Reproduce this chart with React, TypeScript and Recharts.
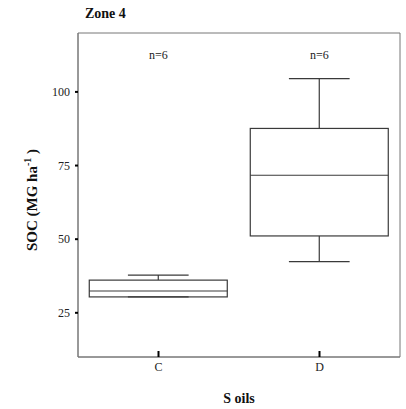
import { Bar, ComposedChart, ReferenceArea, XAxis, YAxis } from "recharts";

const soils = ["C", "D"];
const mins = [30.4, 42.4];
const q1s = [30.4, 51.1];
const medians = [32.4, 71.7];
const q3s = [36.1, 87.6];
const maxs = [37.8, 104.5];
const counts = [6, 6];
const yTicks = [25, 50, 75, 100];
const nLabelAt = 112.4;

const data = soils.map((s, i) => ({
  soil: s,
  range: [mins[i], maxs[i]],
  q1: q1s[i],
  median: medians[i],
  q3: q3s[i],
  n: counts[i],
}));

const serif = "Times New Roman, Liberation Serif, DejaVu Serif, serif";
const boxStroke = "#3a3a3a";

function BoxShape(props: any) {
  const { x, y, width, height, payload } = props;
  const [lo, hi] = payload.range;
  const py = (v: number) => y + ((hi - v) / (hi - lo)) * height;
  const cx = x + width / 2;
  const cap = width * 0.22;
  return (
    <g>
      <line x1={cx} x2={cx} y1={py(hi)} y2={py(payload.q3)} stroke={boxStroke} strokeWidth={1.2} />
      <line x1={cx} x2={cx} y1={py(payload.q1)} y2={py(lo)} stroke={boxStroke} strokeWidth={1.2} />
      <line x1={cx - cap} x2={cx + cap} y1={py(hi)} y2={py(hi)} stroke={boxStroke} strokeWidth={1.2} />
      <line x1={cx - cap} x2={cx + cap} y1={py(lo)} y2={py(lo)} stroke={boxStroke} strokeWidth={1.2} />
      <rect
        x={x}
        y={py(payload.q3)}
        width={width}
        height={py(payload.q1) - py(payload.q3)}
        fill="none"
        stroke={boxStroke}
        strokeWidth={1.2}
      />
      <line x1={x} x2={x + width} y1={py(payload.median)} y2={py(payload.median)} stroke={boxStroke} strokeWidth={1.2} />
      <text x={cx} y={py(nLabelAt) + 4} textAnchor="middle" style={{ fontFamily: serif }} fontSize={12} fill="#222">
        {`n=${payload.n}`}
      </text>
    </g>
  );
}

function XTick(props: any) {
  const { x, y, payload } = props;
  return (
    <g>
      <line x1={x} x2={x} y1={y - 6} y2={y} stroke="#000" strokeWidth={2} />
      <text x={x} y={y + 14} textAnchor="middle" style={{ fontFamily: serif }} fontSize={12} fill="#222">
        {payload.value}
      </text>
    </g>
  );
}

function YLabel(props: any) {
  const { viewBox } = props;
  const cy = viewBox.y + viewBox.height / 2 + 5;
  const cx = 37;
  return (
    <text
      x={cx}
      y={cy}
      transform={`rotate(-90, ${cx}, ${cy})`}
      textAnchor="middle"
      style={{ fontFamily: serif, fontWeight: "bold" }}
      fontSize={15}
      fill="#111"
    >
      SOC (MG ha
      <tspan dy={-6} fontSize={10}>-1</tspan>
      <tspan dy={6}> )</tspan>
    </text>
  );
}

export default function App() {
  return (
    <div style={{ position: "absolute", left: 0, top: 0, width: 406, height: 409, background: "#fff", fontFamily: serif }}>
      <div
        style={{
          position: "absolute",
          left: 85,
          top: 6,
          fontFamily: serif,
          fontWeight: "bold",
          fontSize: 14,
          color: "#111",
        }}
      >
        Zone 4
      </div>
      <ComposedChart
        width={406}
        height={409}
        data={data}
        margin={{ top: 33, right: 6, bottom: 0, left: 0 }}
        barCategoryGap="7%"
        style={{ fontFamily: serif }}
      >
        <XAxis
          dataKey="soil"
          height={52}
          axisLine={{ stroke: "#777" }}
          tickLine={false}
          tickSize={0}
          tickMargin={0}
          tick={<XTick />}
          label={{
            value: "S oils",
            position: "insideBottom",
            offset: 6,
            style: { fontFamily: serif, fontWeight: "bold", fontSize: 14, fill: "#111" },
          }}
        />
        <YAxis
          width={78}
          type="number"
          domain={[10, 120]}
          ticks={yTicks}
          axisLine={{ stroke: "#777" }}
          tickLine={{ stroke: "#000", strokeWidth: 2 }}
          tickSize={3}
          tickMargin={5}
          tick={{ fontFamily: serif, fontSize: 12, fill: "#222" }}
          label={<YLabel />}
        />
        <ReferenceArea y1={10} y2={120} fill="none" stroke="#777" strokeWidth={1} ifOverflow="visible" />
        <Bar dataKey="range" shape={<BoxShape />} isAnimationActive={false} />
      </ComposedChart>
    </div>
  );
}
